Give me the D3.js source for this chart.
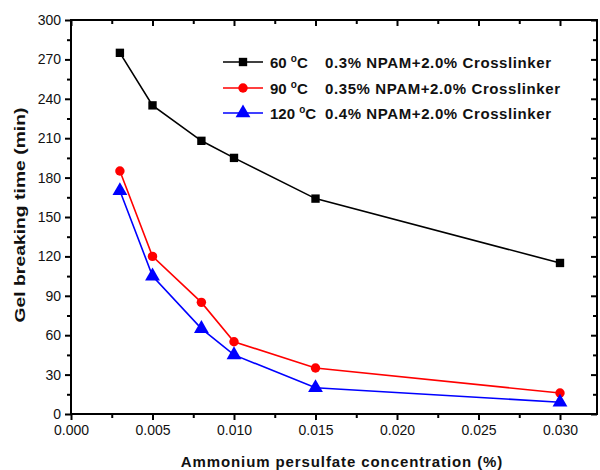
<!DOCTYPE html>
<html><head><meta charset="utf-8">
<script src="https://cdn.jsdelivr.net/npm/d3@7/dist/d3.min.js"></script>
<style>body{margin:0;background:#fff}svg{display:block}</style></head>
<body><svg id="c" width="600" height="470"></svg>
<script>
// ---- data ----
const concentrations = [0.003, 0.005, 0.008, 0.010, 0.015, 0.030];
const time60 = [275, 235, 208, 195, 164, 115];
const time90 = [185, 120, 85, 55, 35, 16];
const time120 = [170, 105, 65, 45, 20, 9];
const tempLabels = ["60", "90", "120"];
const recipeLabels = ["0.3% NPAM+2.0% Crosslinker", "0.35% NPAM+2.0% Crosslinker", "0.4% NPAM+2.0% Crosslinker"];
const xTickValues = [0, 0.005, 0.010, 0.015, 0.020, 0.025, 0.030];
const xMinorValues = [0.0025, 0.0075, 0.0125, 0.0175, 0.0225, 0.0275];
const yTickValues = [0, 30, 60, 90, 120, 150, 180, 210, 240, 270, 300];
const yMinorValues = [15, 45, 75, 105, 135, 165, 195, 225, 255, 285];
const xLabel = "Ammonium persulfate concentration (%)";
const yLabel = "Gel breaking time (min)";

const colors = ["#000000", "#ff0000", "#0000ff"];
const symbols = [d3.symbolSquare, d3.symbolCircle, d3.symbolTriangle];
const symSizes = [70, 70, 95];
const seriesData = [time60, time90, time120];

const svg = d3.select("#c");
const L = 71, R = 597, T = 20, B = 414;
const x = d3.scaleLinear().domain([0, 0.03227]).range([L, R]);
const y = d3.scaleLinear().domain([0, 300]).range([B, T]);
const font = "'Liberation Sans', Arial, sans-serif";

// frame
svg.append("rect").attr("x", L).attr("y", T).attr("width", R - L).attr("height", B - T)
  .attr("fill", "none").attr("stroke", "#000").attr("stroke-width", 2);

function styleAxis(g) {
  g.select(".domain").remove();
  g.selectAll(".tick line").attr("stroke", "#000").attr("stroke-width", 2);
  g.selectAll(".tick text").attr("font-family", font).attr("font-size", 14).attr("fill", "#111");
}
// bottom
svg.append("g").attr("transform", `translate(0,${B})`)
  .call(d3.axisBottom(x).tickValues(xTickValues).tickSize(6).tickPadding(5).tickFormat(d3.format(".3f")))
  .call(styleAxis);
svg.append("g").attr("transform", `translate(0,${B})`)
  .call(d3.axisBottom(x).tickValues(xMinorValues).tickSize(4).tickFormat(""))
  .call(styleAxis);
// top (inward)
svg.append("g").attr("transform", `translate(0,${T})`)
  .call(d3.axisBottom(x).tickValues(xTickValues).tickSize(6).tickFormat(""))
  .call(styleAxis);
svg.append("g").attr("transform", `translate(0,${T})`)
  .call(d3.axisBottom(x).tickValues(xMinorValues).tickSize(4).tickFormat(""))
  .call(styleAxis);
// left
svg.append("g").attr("transform", `translate(${L},0)`)
  .call(d3.axisLeft(y).tickValues(yTickValues).tickSize(6).tickPadding(4))
  .call(styleAxis);
svg.append("g").attr("transform", `translate(${L},0)`)
  .call(d3.axisLeft(y).tickValues(yMinorValues).tickSize(4).tickFormat(""))
  .call(styleAxis);
// right (inward)
svg.append("g").attr("transform", `translate(${R},0)`)
  .call(d3.axisLeft(y).tickValues(yTickValues).tickSize(6).tickFormat(""))
  .call(styleAxis);
svg.append("g").attr("transform", `translate(${R},0)`)
  .call(d3.axisLeft(y).tickValues(yMinorValues).tickSize(4).tickFormat(""))
  .call(styleAxis);

// axis titles
svg.append("text").attr("x", 342).attr("y", 467).attr("text-anchor", "middle")
  .attr("font-family", font).attr("font-size", 15).attr("font-weight", "bold")
  .attr("letter-spacing", 0.9).attr("fill", "#111").text(xLabel);
svg.append("text").attr("transform", "translate(25,215) rotate(-90)").attr("text-anchor", "middle")
  .attr("font-family", font).attr("font-size", 15).attr("font-weight", "bold")
  .attr("textLength", 215).attr("lengthAdjust", "spacingAndGlyphs")
  .attr("fill", "#111").text(yLabel);

// series
const line = d3.line().x((d, i) => x(concentrations[i])).y(d => y(d));
seriesData.forEach((vals, s) => {
  svg.append("path").datum(vals).attr("d", line).attr("fill", "none")
    .attr("stroke", colors[s]).attr("stroke-width", 1.6);
  svg.append("g").selectAll("path").data(vals).join("path")
    .attr("transform", (d, i) => `translate(${x(concentrations[i])},${y(d)})`)
    .attr("d", d3.symbol().type(symbols[s]).size(symSizes[s]))
    .attr("fill", colors[s]);
});

// legend
const legY = [62, 88, 113];
seriesData.forEach((vals, s) => {
  const g = svg.append("g");
  g.append("line").attr("x1", 223).attr("x2", 263).attr("y1", legY[s]).attr("y2", legY[s])
    .attr("stroke", colors[s]).attr("stroke-width", 1.6);
  g.append("path").attr("transform", `translate(243,${legY[s]})`)
    .attr("d", d3.symbol().type(symbols[s]).size(symSizes[s])).attr("fill", colors[s]);
  const t = g.append("text").attr("x", 270).attr("y", legY[s] + 5.5)
    .attr("font-family", font).attr("font-size", 15).attr("font-weight", "bold").attr("fill", "#111");
  t.append("tspan").text(tempLabels[s] + " ");
  t.append("tspan").attr("dy", -6).attr("font-size", 10).text("o");
  t.append("tspan").attr("dy", 6).text("C");
  g.append("text").attr("x", 325).attr("y", legY[s] + 5.5)
    .attr("font-family", font).attr("font-size", 15).attr("font-weight", "bold")
    .attr("letter-spacing", 0.6).attr("fill", "#111").text(recipeLabels[s]);
});
</script>
</body></html>
